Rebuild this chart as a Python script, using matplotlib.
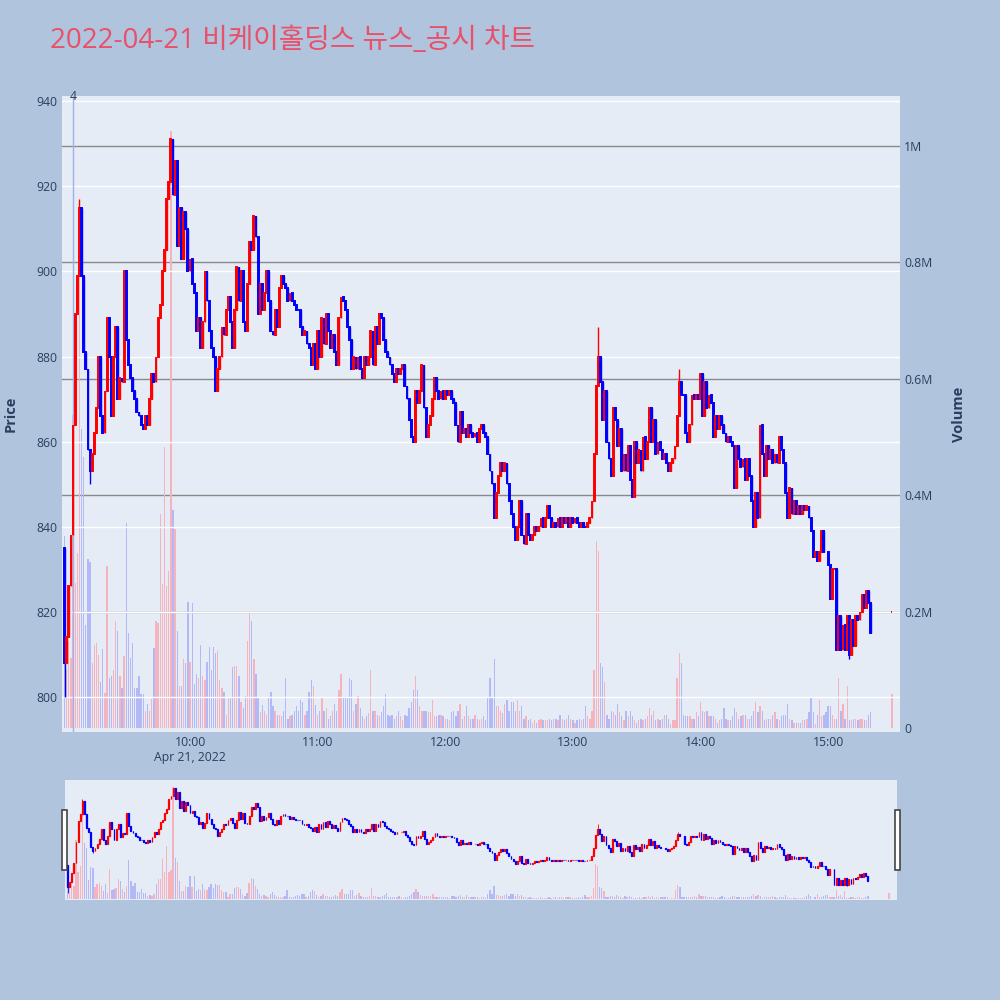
import matplotlib
matplotlib.use('Agg')
import matplotlib.pyplot as plt
from matplotlib.ticker import FixedLocator, FuncFormatter

# ---------------- data (minutes after 09:00) ----------------
title = '2022-04-21 비케이홀딩스 뉴스_공시 차트'
first_open = 835
closes = [
    808, 814, 826, 838, 864, 890, 899, 915, 899, 881,
    877, 858, 853, 857, 862, 868, 880, 866, 862, 872,
    889, 880, 866, 880, 887, 870, 875, 874, 900, 884,
    878, 875, 872, 870, 867, 866, 864, 863, 866, 864,
    870, 876, 874, 880, 889, 892, 900, 905, 917, 921,
    931, 918, 926, 906, 915, 903, 914, 910, 900, 903,
    897, 895, 886, 889, 882, 888, 900, 893, 886, 882,
    880, 872, 877, 880, 887, 885, 891, 894, 888, 882,
    891, 901, 893, 900, 888, 886, 897, 907, 905, 913,
    908, 890, 897, 891, 895, 900, 893, 886, 885, 891,
    887, 896, 899, 897, 896, 893, 895, 893, 892, 891,
    891, 887, 885, 886, 883, 882, 878, 883, 877, 886,
    880, 889, 883, 890, 886, 882, 885, 881, 878, 889,
    894, 893, 891, 887, 884, 877, 880, 877, 880, 877,
    875, 880, 878, 880, 886, 878, 887, 883, 890, 889,
    884, 881, 880, 878, 876, 874, 877, 876, 877, 878,
    873, 870, 865, 861, 860, 872, 869, 872, 878, 868,
    861, 864, 866, 870, 875, 872, 870, 872, 870, 872,
    871, 872, 870, 869, 864, 860, 867, 862, 863, 861,
    864, 862, 861, 862, 860, 863, 864, 862, 861, 857,
    853, 850, 842, 848, 852, 855, 853, 855, 850, 846,
    843, 840, 837, 840, 846, 838, 836, 843, 838, 837,
    838, 840, 839, 840, 842, 840, 842, 845, 842, 840,
    841, 840, 842, 840, 842, 841, 842, 840, 842, 841,
    842, 841, 840, 841, 840, 840, 841, 842, 846, 857,
    873, 880, 874, 865, 872, 860, 856, 852, 868, 865,
    859, 863, 853, 857, 853, 859, 851, 847, 860, 855,
    858, 853, 861, 856, 860, 868, 860, 865, 857, 860,
    858, 856, 857, 855, 853, 855, 856, 859, 866, 874,
    871, 871, 862, 860, 864, 871, 870, 871, 870, 876,
    866, 874, 868, 871, 869, 861, 866, 863, 866, 864,
    862, 860, 861, 860, 859, 849, 859, 856, 854, 856,
    851, 856, 852, 846, 840, 848, 842, 864, 857, 852,
    859, 856, 858, 855, 857, 855, 861, 858, 855, 848,
    842, 849, 843, 846, 843, 845, 843, 845, 844, 845,
    842, 839, 833, 834, 832, 834, 839, 834, 834, 831,
    823, 830, 830, 811, 819, 811, 817, 811, 819, 810,
    818, 812, 819, 818, 820, 824, 821, 825, 822, 815,
]
volumes_k = [
    330, 100, 150, 120, 538, 250, 300, 907, 514, 465,
    177, 290, 286, 111, 142, 146, 125, 79, 135, 60,
    279, 86, 90, 100, 184, 167, 90, 69, 123, 353,
    163, 121, 146, 69, 69, 90, 58, 58, 30, 41,
    30, 50, 138, 184, 181, 367, 248, 482, 244, 270,
    1026, 374, 342, 167, 72, 72, 118, 111, 216, 114,
    214, 76, 93, 86, 142, 90, 83, 114, 139, 100,
    139, 128, 132, 83, 69, 62, 23, 51, 51, 104,
    107, 107, 90, 44, 34, 55, 150, 198, 184, 118,
    93, 51, 27, 40, 30, 23, 51, 62, 37, 30,
    23, 23, 20, 30, 86, 16, 20, 23, 30, 37,
    30, 48, 44, 23, 30, 62, 83, 72, 40, 23,
    30, 51, 30, 34, 16, 20, 30, 41, 30, 65,
    93, 51, 51, 51, 86, 83, 30, 41, 55, 34,
    20, 16, 20, 25, 100, 30, 30, 23, 20, 27,
    37, 58, 23, 20, 23, 16, 20, 30, 20, 13,
    23, 20, 34, 44, 65, 90, 65, 37, 30, 30,
    30, 27, 27, 48, 20, 20, 23, 23, 20, 16,
    16, 13, 27, 30, 20, 30, 41, 16, 20, 37,
    20, 16, 16, 23, 16, 13, 16, 20, 13, 51,
    86, 51, 118, 37, 37, 30, 25, 41, 48, 30,
    44, 44, 30, 48, 30, 37, 16, 20, 13, 16,
    9, 13, 9, 13, 16, 13, 13, 13, 16, 13,
    16, 16, 13, 23, 16, 13, 16, 23, 16, 13,
    9, 13, 16, 13, 16, 37, 20, 16, 30, 100,
    321, 304, 111, 104, 79, 23, 16, 30, 27, 23,
    41, 27, 20, 13, 30, 20, 30, 20, 13, 9,
    13, 16, 13, 16, 20, 34, 23, 30, 13, 16,
    13, 16, 23, 23, 16, 6, 13, 13, 86, 128,
    111, 23, 20, 20, 20, 16, 16, 27, 20, 44,
    30, 27, 30, 20, 20, 20, 16, 9, 13, 16,
    34, 16, 13, 13, 20, 34, 27, 16, 20, 23,
    23, 16, 16, 20, 30, 44, 27, 37, 30, 13,
    16, 16, 16, 23, 27, 16, 13, 20, 23, 23,
    41, 16, 13, 9, 9, 9, 9, 13, 13, 16,
    27, 51, 27, 6, 23, 48, 20, 23, 27, 37,
    37, 23, 16, 16, 86, 30, 41, 16, 72, 13,
    13, 16, 16, 13, 16, 16, 13, 13, 23, 27,
]
wick_lows = {1: 800, 13: 850, 370: 809}
wick_highs = {8: 917, 51: 931, 252: 887, 290: 877}
closing_minute = 390
closing_price = 820
closing_volume_k = 58
news_minute = 5
news_label = '4'
x_tick_minutes = [60, 120, 180, 240, 300, 360]
x_tick_labels = ['10:00\nApr 21, 2022', '11:00', '12:00', '13:00', '14:00', '15:00']
price_ticks = [800, 820, 840, 860, 880, 900, 920, 940]
volume_ticks_m = [0, 0.2, 0.4, 0.6, 0.8, 1.0]

# ---------------- build OHLC ----------------
minutes = list(range(1, len(closes) + 1)) + [closing_minute]
opens = [first_open] + closes[:-1] + [closing_price]
cls = closes + [closing_price]
vols = [v / 1000.0 for v in volumes_k + [closing_volume_k]]
highs, lows, colors = [], [], []
prev_dir = True
prev_c = None
for i, (t, o, c) in enumerate(zip(minutes, opens, cls)):
    highs.append(max(o, c, wick_highs.get(t, -1e9)))
    lows.append(min(o, c, wick_lows.get(t, 1e9)))
    if c > o:
        d = True
    elif c < o:
        d = False
    else:
        d = (c > prev_c) if (prev_c is not None and c != prev_c) else prev_dir
    colors.append(d)
    prev_dir = d
    prev_c = c

RED, BLUE = '#ff0000', '#0000ff'
VRED, VBLUE = '#f4b3bd', '#b3b9f6'
cc = [RED if d else BLUE for d in colors]
vc = [VRED if d else VBLUE for d in colors]

BG = '#b0c4de'
PLOT_BG = '#e5ecf6'
TXT = '#2a3f5f'

plt.rcParams['font.family'] = ['Open Sans', 'Noto Sans CJK KR', 'DejaVu Sans']

fig = plt.figure(figsize=(10, 10), dpi=100, facecolor=BG)
XL = (-0.2, 393.8)
YL = (791.8, 941.2)
VL = (-0.0069, 1.086)


def draw(ax_v, ax_p, main=True):
    ax_v.set_facecolor(PLOT_BG)
    ax_v.set_xlim(*XL)
    ax_v.set_ylim(*VL)
    ax_p.set_xlim(*XL)
    ax_p.set_ylim(*YL)
    ax_p.set_zorder(ax_v.get_zorder() + 1)
    ax_p.patch.set_visible(False)
    for a in (ax_v, ax_p):
        for s in a.spines.values():
            s.set_visible(False)
    ax_v.bar(minutes, vols, width=0.62, color=vc, linewidth=0, zorder=2)
    lw_body = 1.4 if main else 0.9
    ax_p.vlines(minutes, lows, highs, colors=cc, linewidth=1.0 if main else 0.6, zorder=3)
    bottoms = [min(o, c) for o, c in zip(opens, cls)]
    heights = [abs(c - o) for o, c in zip(opens, cls)]
    ax_p.bar(minutes, heights, bottom=bottoms, width=0.4, color=cc, edgecolor=cc,
             linewidth=lw_body, zorder=4)


# main chart
ax_v = fig.add_axes([0.062, 0.268, 0.838, 0.636])
ax_p = ax_v.twinx()
draw(ax_v, ax_p, True)

# grid lines
for yv in price_ticks:
    ax_p.axhline(yv, color='white', linewidth=1.0, zorder=0.5)
for vv in volume_ticks_m[1:]:
    ax_v.axhline(vv, color='#8a8a8a', linewidth=1.0, zorder=1)

# price axis on the left
ax_p.yaxis.tick_left()
ax_p.yaxis.set_label_position('left')
ax_p.yaxis.set_major_locator(FixedLocator(price_ticks))
ax_p.tick_params(axis='y', length=0, pad=3, labelsize=8.8, labelcolor=TXT)
ax_p.set_ylabel('Price', fontsize=10.5, fontweight='bold', color=TXT, labelpad=14)

# volume axis on the right
ax_v.yaxis.tick_right()
ax_v.yaxis.set_label_position('right')
ax_v.yaxis.set_major_locator(FixedLocator(volume_ticks_m))
ax_v.yaxis.set_major_formatter(FuncFormatter(
    lambda v, p: '0' if v == 0 else ('1M' if abs(v - 1) < 1e-9 else f'{v:.1f}M')))
ax_v.tick_params(axis='y', length=0, pad=3, labelsize=8.8, labelcolor=TXT)
ax_v.set_ylabel('Volume', fontsize=10.5, fontweight='bold', color=TXT, labelpad=14)

ax_v.xaxis.set_major_locator(FixedLocator(x_tick_minutes))
ax_v.set_xticklabels(x_tick_labels)
ax_v.tick_params(axis='x', length=0, pad=3, labelsize=8.8, labelcolor=TXT)
ax_p.tick_params(axis='x', length=0, labelbottom=False, labeltop=False)

# news marker
ax_p.axvline(news_minute, color='#9fb0ea', linewidth=1.0, zorder=2.5)
ax_p.text(news_minute, YL[1], news_label, ha='center', va='center', fontsize=8.8,
          color=TXT)

# range slider
sv = fig.add_axes([0.065, 0.100, 0.832, 0.120])
sp = sv.twinx()
draw(sv, sp, False)
for a in (sv, sp):
    a.tick_params(left=False, right=False, bottom=False, top=False,
                  labelleft=False, labelright=False, labelbottom=False, labeltop=False)

# slider handles
for hx in (0.062, 0.895):
    fig.patches.append(matplotlib.patches.Rectangle(
        (hx, 0.130), 0.0045, 0.060, transform=fig.transFigure,
        facecolor='white', edgecolor='#444444', linewidth=1.2, zorder=10))

fig.text(0.050, 0.959, title, fontsize=20, color='#e9506a', ha='left', va='center',
         family=['Open Sans', 'Noto Sans CJK KR'])

fig.savefig('out.png', dpi=100, facecolor=BG)
